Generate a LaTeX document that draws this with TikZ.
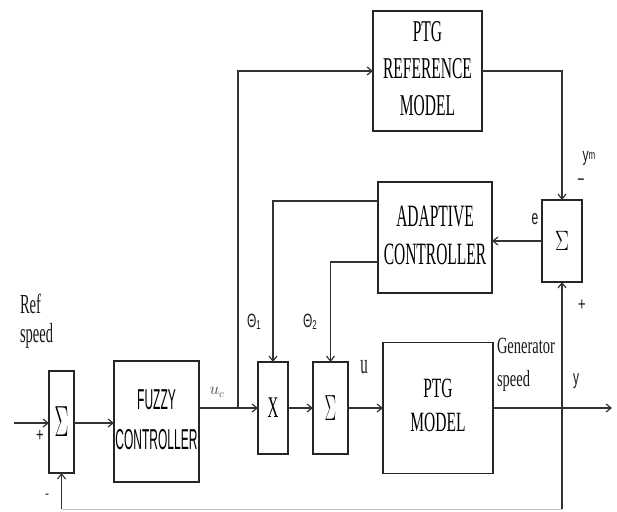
\documentclass[tikz,border=0pt]{standalone}
\usepackage{fontspec}
\setmainfont{Liberation Serif}
\newfontfamily\sansf{Liberation Sans}
\usetikzlibrary{arrows.meta}
\newcommand\tall[2][1.8]{\scalebox{1}[#1]{#2}}
\begin{document}
\begin{tikzpicture}[x=1pt,y=-1pt,
  box/.style={draw=black!85, line width=1.3pt, inner sep=0pt, outer sep=0pt},
  wire/.style={draw=black!80, line width=1.3pt},
  arr/.style={wire, -{Straight Barb[length=5pt,width=8pt,line width=1.2pt]}},
  lbl/.style={inner sep=0pt, outer sep=0pt, text=black!90},
  serifbig/.style={font=\fontsize{15.5}{19}\selectfont},
  sansbig/.style={font=\sansf\fontsize{12}{16.5}\selectfont}]
\useasboundingbox (0,0) rectangle (617,511);
% blocks
\node[box, minimum width=109pt, minimum height=120pt, serifbig] (ref) at (427.5,71)
  {\tall[1.95]{\begin{tabular}{@{}c@{}}PTG\\REFERENCE\\MODEL\end{tabular}}};
\node[box, minimum width=114pt, minimum height=111pt, serifbig] (adapt) at (435,237.5)
  {\raisebox{-5pt}{\tall[2.0]{\begin{tabular}{@{}c@{}}ADAPTIVE\\CONTROLLER\end{tabular}}}};
\node[box, minimum width=40pt, minimum height=82pt] (sum3) at (562,241)
  {\raisebox{-12pt}{\fontsize{20}{20}\selectfont\tall[1.35]{$\Sigma$}}};
\node[box, minimum width=25pt, minimum height=102pt] (sum1) at (61.5,422)
  {\raisebox{-24pt}{\fontsize{20}{20}\selectfont\tall[2.1]{$\Sigma$}}};
\node[box, minimum width=85pt, minimum height=121pt, sansbig] (fuzzy) at (156.5,421.5)
  {\raisebox{9pt}{\tall[2.4]{\begin{tabular}{@{}c@{}}FUZZY\\CONTROLLER\end{tabular}}}};
\node[box, minimum width=30pt, minimum height=92pt] (xbox) at (273,408)
  {\raisebox{-4pt}{\fontsize{15}{15}\selectfont\tall[2.0]{X}}};
\node[box, minimum width=35pt, minimum height=92pt] (sum2) at (330.5,408)
  {\raisebox{-2pt}{\fontsize{18}{18}\selectfont\tall[2.1]{$\Sigma$}}};
\node[box, minimum width=110pt, minimum height=131pt, serifbig] (ptg) at (438,408)
  {\raisebox{3pt}{\tall[1.8]{\begin{tabular}{@{}c@{}}PTG\\MODEL\end{tabular}}}};
% coordinates
\coordinate (in) at (14,423);
\coordinate (j) at (238,408);
\coordinate (out) at (612,408);
\coordinate (fb) at (562,509);
\coordinate (fbl) at (61.5,509);
% connectors
\draw[arr] (in) -- (in -| sum1.west);
\draw[arr] (sum1.east |- in) -- (in -| fuzzy.west);
\draw[arr] (fuzzy.east |- j) -- (xbox.west);
\draw[arr] (j) |- (ref.west);
\draw[arr] (ref.east) -| (sum3.north);
\draw[arr] (sum3.west) -- (sum3.west -| adapt.east);
\draw[arr] ([yshift=36.5pt]adapt.west) -| (xbox.north);
\draw[arr] ([yshift=-24.5pt]adapt.west) -| (sum2.north);
\draw[arr] (xbox.east) -- (sum2.west);
\draw[arr] (sum2.east) -- (ptg.west);
\draw[arr] (ptg.east) -- (out);
\draw[arr] (fb) -- (sum3.south);
\draw[draw=black!25, line width=1pt] (fb) -- (fbl);
\draw[arr] (fbl) -- (sum1.south);
% labels
\node[lbl, anchor=base west, font=\fontsize{14.5}{14.5}\selectfont] (ref1) at (20,313) {\tall[1.9]{Ref}};
\node[lbl, anchor=base west, font=\fontsize{14.5}{14.5}\selectfont] (ref2) at (20,342) {\tall[1.9]{speed}};
\node[lbl, font=\sansf\fontsize{13}{13}\selectfont] (pl1) at (40,436) {\tall[1.5]{+}};
\node[lbl, font=\sansf\fontsize{12}{12}\selectfont] (mi1) at (47,496) {\tall[1.2]{-}};
\node[lbl, font=\fontsize{16}{16}\selectfont, text=black!70] (uc) at (217,392) {$u_c$};
\node[lbl, font=\sansf\fontsize{12}{12}\selectfont] (th1) at (254,322) {\tall[1.6]{Θ\raisebox{-1pt}{\footnotesize 1}}};
\node[lbl, font=\sansf\fontsize{12}{12}\selectfont] (th2) at (310,322) {\tall[1.6]{Θ\raisebox{-1pt}{\footnotesize 2}}};
\node[lbl, anchor=base, font=\fontsize{15}{15}\selectfont] (ul) at (364,373) {\tall[1.9]{u}};
\node[lbl, anchor=base west, font=\fontsize{14.5}{14.5}\selectfont] (gen1) at (497,353) {\tall[1.6]{Generator}};
\node[lbl, anchor=base west, font=\fontsize{14.5}{14.5}\selectfont] (gen2) at (497,386) {\tall[1.6]{speed}};
\node[lbl, anchor=base, font=\sansf\fontsize{12}{12}\selectfont] (yl) at (576,384) {\tall[1.7]{y}};
\node[lbl, font=\sansf\fontsize{13}{13}\selectfont] (pl3) at (582,305) {\tall[1.4]{+}};
\node[lbl, anchor=base, font=\sansf\fontsize{12}{12}\selectfont] (ym) at (589,161) {\tall[1.6]{y\raisebox{1pt}{\footnotesize m}}};
\node[lbl, font=\sansf\fontsize{12}{12}\selectfont] (mi3) at (581,181) {\tall[1.2]{\textbf{–}}};
\node[lbl, anchor=base, font=\sansf\fontsize{12}{12}\selectfont] (el) at (535,224) {\tall[1.7]{e}};
\end{tikzpicture}
\end{document}
